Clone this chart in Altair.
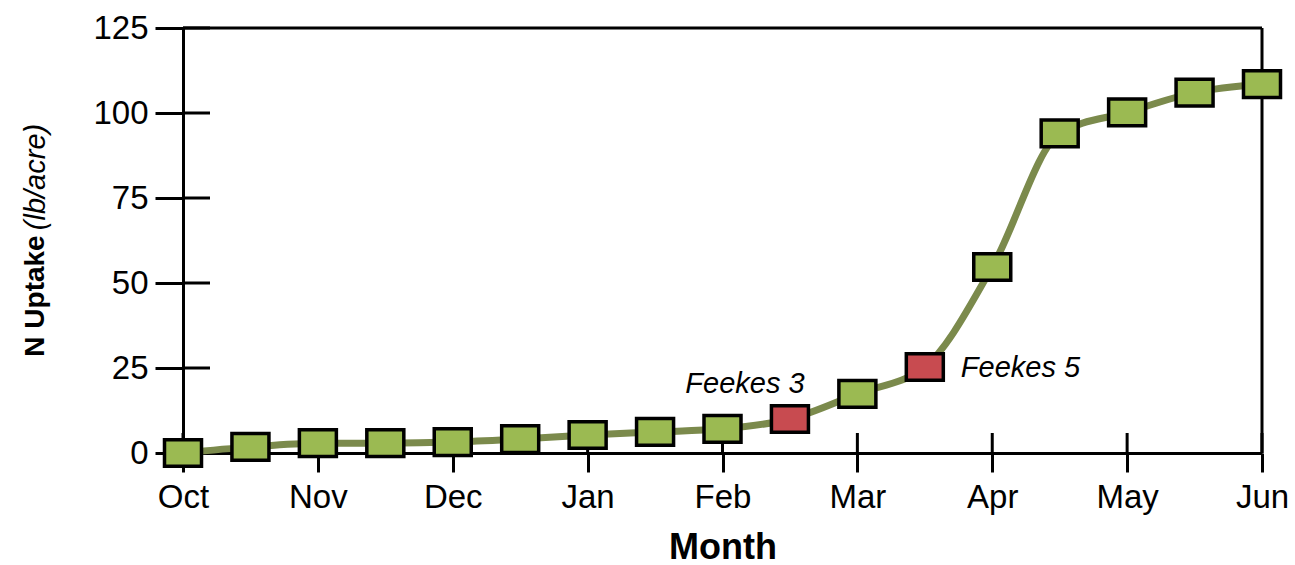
import altair as alt
import pandas as pd

# Data
month_names = ["Oct", "Nov", "Dec", "Jan", "Feb", "Mar", "Apr", "May", "Jun"]
month_pos = [0, 0.5, 1, 1.5, 2, 2.5, 3, 3.5, 4, 4.5, 5, 5.5, 6, 6.5, 7, 7.5, 8]
n_uptake = [0, 1.8, 2.9, 2.9, 3.2, 4.1, 5.3, 6.2, 7.1, 10.0, 17.4, 25.3, 54.7, 94.0, 100.2, 106.0, 108.5]
stage = ["", "", "", "", "", "", "", "", "", "Feekes 3", "", "Feekes 5", "", "", "", "", ""]
y_ticks = [0, 25, 50, 75, 100, 125]

df = pd.DataFrame({"month": month_pos, "uptake": n_uptake, "stage": stage})
df["kind"] = ["stage" if s else "normal" for s in stage]
ticks_y = pd.DataFrame({"v": y_ticks})
ticks_x = pd.DataFrame({"m": list(range(len(month_names)))})

W, H = 1079, 425
FONT = "Liberation Sans, Arial, sans-serif"
label_expr = "[" + ",".join(f"'{m}'" for m in month_names) + "][datum.value]"

x_scale = alt.Scale(domain=[0, 8], nice=False, zero=False)
y_scale = alt.Scale(domain=[0, 125], nice=False)

x_enc = alt.X("month:Q", scale=x_scale,
              axis=alt.Axis(values=list(range(9)), labelExpr=label_expr, title="Month",
                            grid=False, tickSize=19, tickWidth=3, tickColor="black",
                            domainColor="black", domainWidth=3, labelFlush=False,
                            labelFont=FONT, labelFontSize=33, labelColor="black", labelPadding=9,
                            titleFont=FONT, titleFontSize=36, titleFontWeight="bold",
                            titleColor="black", titlePadding=16))
y_enc = alt.Y("uptake:Q", scale=y_scale,
              axis=alt.Axis(values=y_ticks, title=None, grid=False, tickSize=28, tickWidth=3,
                            tickColor="black", domainColor="black", domainWidth=3, labelFlush=False,
                            labelFont=FONT, labelFontSize=33, labelColor="black", labelPadding=7))

line = alt.Chart(df).mark_line(interpolate="monotone", color="#7b8a4c", strokeWidth=7).encode(
    x=x_enc, y=y_enc)

rect_shape = "M-1,-0.72L1,-0.72L1,0.72L-1,0.72Z"
pts = alt.Chart(df).mark_point(shape=rect_shape, size=1369, filled=True, opacity=1,
                               stroke="black", strokeWidth=3.5).encode(
    x="month:Q", y="uptake:Q",
    fill=alt.Fill("kind:N", scale=alt.Scale(domain=["normal", "stage"],
                                           range=["#9bba52", "#c84b50"]), legend=None))

inner_y = alt.Chart(ticks_y).mark_rule(color="black", strokeWidth=3).encode(
    y=alt.Y("v:Q", scale=y_scale), x=alt.value(0), x2=alt.value(27))
inner_x = alt.Chart(ticks_x).mark_rule(color="black", strokeWidth=3).encode(
    x=alt.X("m:Q", scale=x_scale), y=alt.value(H), y2=alt.value(H - 20))

border_top = alt.Chart(df.head(1)).mark_rule(color="black", strokeWidth=3).encode(
    x=alt.value(0), x2=alt.value(W), y=alt.value(0))
border_right = alt.Chart(df.head(1)).mark_rule(color="black", strokeWidth=3).encode(
    x=alt.value(W), y=alt.value(0), y2=alt.value(H))

f3 = alt.Chart(df[df.stage == "Feekes 3"]).mark_text(
    font=FONT, fontSize=29, fontStyle="italic", color="black", align="center",
    baseline="middle", dx=-45, dy=-35).encode(x="month:Q", y="uptake:Q", text="stage:N")
f5 = alt.Chart(df[df.stage == "Feekes 5"]).mark_text(
    font=FONT, fontSize=29, fontStyle="italic", color="black", align="left",
    baseline="middle", dx=36, dy=1).encode(x="month:Q", y="uptake:Q", text="stage:N")

yt1 = alt.Chart(df.head(1)).mark_text(
    font=FONT, fontSize=28, fontWeight="bold", color="black", angle=270,
    align="center", baseline="middle").encode(
    x=alt.value(-147), y=alt.value(268), text=alt.value("N Uptake"))
yt2 = alt.Chart(df.head(1)).mark_text(
    font=FONT, fontSize=29, fontStyle="italic", color="black", angle=270,
    align="center", baseline="middle").encode(
    x=alt.value(-147), y=alt.value(149), text=alt.value("(lb/acre)"))

chart = alt.layer(inner_y, inner_x, border_top, border_right, line, pts, f3, f5, yt1, yt2).properties(
    width=W, height=H,
    autosize=alt.AutoSizeParams(type="none"),
    padding={"left": 183, "top": 28, "right": 33, "bottom": 112},
).configure_view(strokeWidth=0).configure(background="white")

chart.save("out.html", embed_options={"renderer": "svg", "actions": False})
